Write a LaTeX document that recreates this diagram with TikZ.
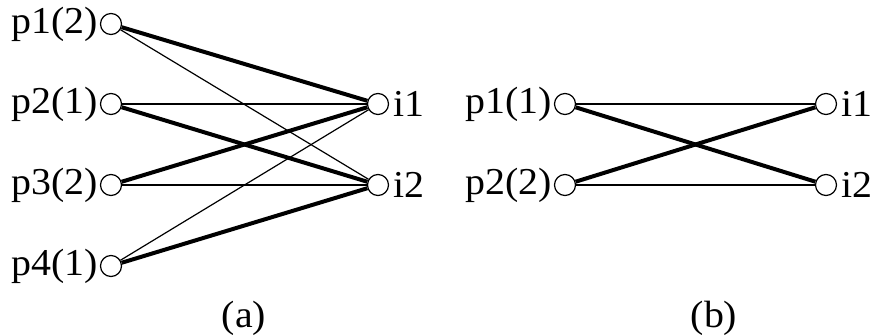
\documentclass[tikz,border=0pt]{standalone}
\usepackage{fontspec}
\setmainfont{Liberation Serif}
\usetikzlibrary{positioning}
\newcommand{\widetext}[1]{\scalebox{1.05}[1]{#1}}

\begin{document}
\begin{tikzpicture}[
    x=1pt, y=1pt,
    vert/.style={circle, draw=black, fill=white, line width=1.2pt, minimum size=21pt, inner sep=0pt},
    lab/.style={font=\fontsize{38}{42}\selectfont, inner sep=2pt},
    thinedge/.style={line width=1.2pt},
    thickedge/.style={line width=4pt},
    caption/.style={font=\fontsize{38}{42}\selectfont}
]
\useasboundingbox (0,0) rectangle (881,335);

% ===== GRAPH (a) =====
\foreach \n/\y/\t in {1/311/p1(2), 2/231/p2(1), 3/150/p3(2), 4/69/p4(1)} {
    \node[vert, label={[lab, label distance=0pt]left:\widetext{\t}}] (ap\n) at (111,\y) {};
}
\node[vert, label={[lab, label distance=2pt]right:\widetext{i1}}] (ai1) at (378,231) {};
\node[vert, label={[lab, label distance=2pt]right:\widetext{i2}}] (ai2) at (378,150) {};

% heavy and light edges
\foreach \s/\t in {ap1/ai1, ap2/ai2, ap3/ai1, ap4/ai2}
    \draw[thickedge] (\s) -- (\t);
\foreach \s/\t in {ap1/ai2, ap2/ai1, ap3/ai2, ap4/ai1}
    \draw[thinedge] (\s) -- (\t);

\node[caption] (capa) at (244,17) {\widetext{(a)}};

% ===== GRAPH (b) =====
\node[vert, label={[lab, label distance=0pt]left:\widetext{p1(1)}}] (bp1) at (565,231) {};
\node[vert, label={[lab, label distance=0pt]left:\widetext{p2(2)}}] (bp2) at (565,150) {};
\node[vert, label={[lab, label distance=2pt]right:\widetext{i1}}] (bi1) at (826,231) {};
\node[vert, label={[lab, label distance=2pt]right:\widetext{i2}}] (bi2) at (826,150) {};

\draw[thinedge] (bp1) -- (bi1);
\draw[thinedge] (bp2) -- (bi2);
\draw[thickedge] (bp1) -- (bi2);
\draw[thickedge] (bp2) -- (bi1);

\node[caption] (capb) at (714,17) {\widetext{(b)}};

\end{tikzpicture}
\end{document}
